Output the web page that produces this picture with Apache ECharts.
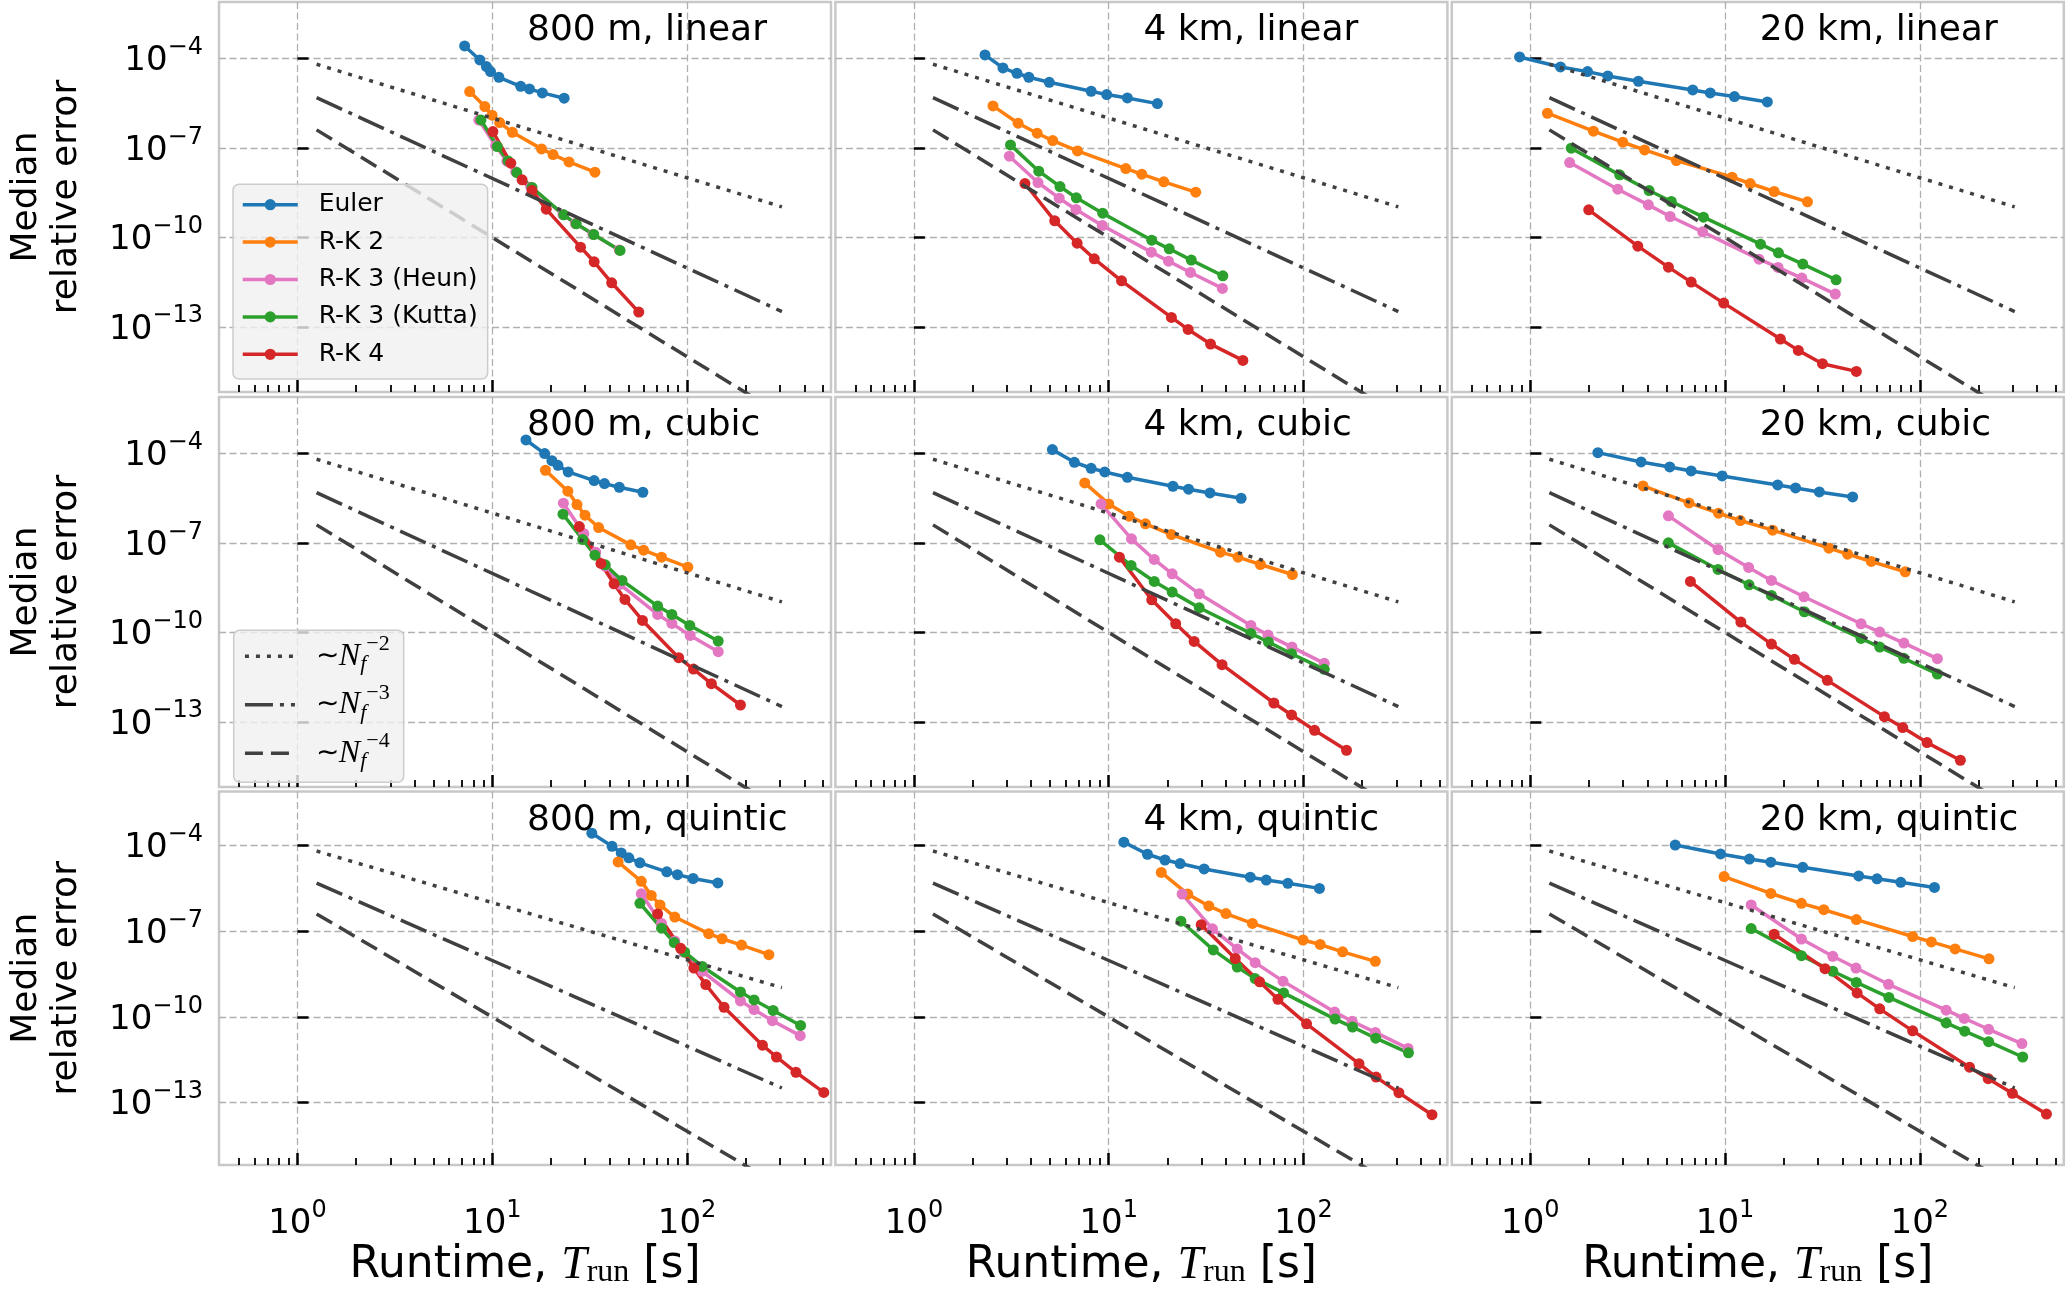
<!DOCTYPE html>
<html><head><meta charset="utf-8">
<script src="https://cdn.jsdelivr.net/npm/echarts@6/dist/echarts.min.js"></script>
<style>html,body{margin:0;padding:0;background:#fff}#c{width:2067px;height:1290px}</style>
</head><body><div id="c"></div>
<script>
// All values are log10: [log10(runtime T_run [s]), log10(median relative error)]
const methods = ['Euler', 'R-K 2', 'R-K 3 (Heun)', 'R-K 3 (Kutta)', 'R-K 4'];
const colors = ['#1f77b4', '#ff7f0e', '#e377c2', '#2ca02c', '#d62728'];
const panelTitles = ['800 m, linear', '4 km, linear', '20 km, linear',
                     '800 m, cubic', '4 km, cubic', '20 km, cubic',
                     '800 m, quintic', '4 km, quintic', '20 km, quintic'];
const yTickValues = [-13, -10, -7, -4];      // exponents of 10
const xTickValues = [0, 1, 2];               // exponents of 10
const xMinorMultiples = [0.5, 0.6, 0.7, 0.8, 0.9, 2, 3, 4, 5, 6, 7, 8, 9, 20, 30, 40, 50, 60, 70, 80, 90, 200, 300, 400, 500];

// reference slopes ~N_f^-2, ~N_f^-3, ~N_f^-4 (same in every panel)
const refNames = ['N_f^-2', 'N_f^-3', 'N_f^-4'];
const refExp = ['−2', '−3', '−4'];
const refX = [0.098, 2.487];
const refN2 = [-4.20, -8.98];
const refN3 = [-5.32, -12.49];
const refN4 = [-6.40, -15.95];

// 800 m, linear
const euler_800m_linear = [[0.858,-3.587],[0.936,-4.056],[0.970,-4.279],[0.991,-4.446],[1.034,-4.636],[1.146,-4.938],[1.191,-5.027],[1.257,-5.161],[1.369,-5.339]];
const rk2_800m_linear = [[0.884,-5.117],[0.962,-5.619],[0.999,-5.909],[1.038,-6.155],[1.103,-6.479],[1.253,-7.037],[1.312,-7.227],[1.394,-7.473],[1.527,-7.819]];
const heun_800m_linear = [[0.931,-6.07],[1.017,-6.93],[1.075,-7.45],[1.120,-7.80],[1.198,-8.32],[1.363,-9.24],[1.427,-9.54],[1.517,-9.90],[1.652,-10.43]];
const kutta_800m_linear = [[0.942,-6.066],[1.026,-6.959],[1.081,-7.439],[1.126,-7.830],[1.204,-8.332],[1.367,-9.248],[1.431,-9.549],[1.521,-9.907],[1.656,-10.443]];
const rk4_800m_linear = [[1.003,-6.456],[1.095,-7.517],[1.153,-8.075],[1.204,-8.433],[1.277,-9.058],[1.453,-10.331],[1.523,-10.822],[1.613,-11.526],[1.752,-12.508]];
// 4 km, linear
const euler_4km_linear = [[0.365,-3.888],[0.457,-4.324],[0.529,-4.502],[0.590,-4.636],[0.695,-4.804],[0.910,-5.105],[0.990,-5.217],[1.096,-5.329],[1.250,-5.519]];
const rk2_4km_linear = [[0.406,-5.597],[0.535,-6.177],[0.633,-6.512],[0.713,-6.758],[0.840,-7.104],[1.088,-7.696],[1.170,-7.886],[1.283,-8.142],[1.447,-8.489]];
const heun_4km_linear = [[0.490,-7.283],[0.637,-8.165],[0.746,-8.690],[0.832,-9.069],[0.967,-9.605],[1.219,-10.498],[1.307,-10.800],[1.420,-11.180],[1.584,-11.715]];
const kutta_4km_linear = [[0.496,-6.903],[0.641,-7.785],[0.750,-8.299],[0.834,-8.678],[0.969,-9.192],[1.221,-10.097],[1.311,-10.387],[1.424,-10.766],[1.586,-11.291]];
const rk4_4km_linear = [[0.570,-8.198],[0.723,-9.449],[0.838,-10.197],[0.926,-10.722],[1.066,-11.459],[1.322,-12.687],[1.408,-13.089],[1.523,-13.580],[1.689,-14.127]];
// 20 km, linear
const euler_20km_linear = [[-0.055,-3.955],[0.155,-4.290],[0.294,-4.447],[0.398,-4.592],[0.555,-4.770],[0.834,-5.061],[0.924,-5.161],[1.048,-5.284],[1.217,-5.463]];
const rk2_20km_linear = [[0.088,-5.842],[0.324,-6.445],[0.475,-6.814],[0.587,-7.071],[0.750,-7.428],[1.036,-7.986],[1.129,-8.198],[1.252,-8.466],[1.423,-8.812]];
const heun_20km_linear = [[0.202,-7.495],[0.449,-8.388],[0.606,-8.913],[0.718,-9.304],[0.885,-9.817],[1.174,-10.733],[1.272,-11.012],[1.394,-11.369],[1.566,-11.905]];
const kutta_20km_linear = [[0.210,-7.015],[0.459,-7.908],[0.610,-8.433],[0.724,-8.801],[0.889,-9.326],[1.182,-10.230],[1.274,-10.521],[1.399,-10.900],[1.570,-11.425]];
const rk4_20km_linear = [[0.300,-9.080],[0.552,-10.297],[0.709,-11.001],[0.826,-11.503],[0.993,-12.207],[1.284,-13.413],[1.376,-13.792],[1.500,-14.239],[1.674,-14.496]];
// 800 m, cubic
const euler_800m_cubic = [[1.173,-3.554],[1.269,-4.011],[1.306,-4.246],[1.337,-4.402],[1.390,-4.625],[1.523,-4.915],[1.576,-5.016],[1.652,-5.138],[1.773,-5.306]];
const rk2_800m_cubic = [[1.273,-4.569],[1.388,-5.272],[1.435,-5.719],[1.476,-6.076],[1.546,-6.489],[1.711,-7.069],[1.777,-7.248],[1.869,-7.482],[2.004,-7.817]];
const heun_800m_cubic = [[1.365,-5.674],[1.470,-6.690],[1.531,-7.315],[1.578,-7.783],[1.656,-8.397],[1.849,-9.402],[1.922,-9.703],[2.016,-10.105],[2.160,-10.652]];
const kutta_800m_cubic = [[1.363,-6.043],[1.464,-6.891],[1.527,-7.415],[1.580,-7.739],[1.666,-8.263],[1.849,-9.123],[1.922,-9.402],[2.014,-9.770],[2.160,-10.295]];
const rk4_800m_cubic = [[1.447,-6.456],[1.558,-7.694],[1.625,-8.375],[1.681,-8.900],[1.771,-9.603],[1.957,-10.853],[2.033,-11.232],[2.125,-11.723],[2.274,-12.438]];
// 4 km, cubic
const euler_4km_cubic = [[0.711,-3.877],[0.824,-4.301],[0.910,-4.502],[0.980,-4.625],[1.096,-4.804],[1.330,-5.105],[1.410,-5.205],[1.520,-5.328],[1.680,-5.507]];
const rk2_4km_cubic = [[0.877,-4.993],[1.000,-5.696],[1.105,-6.109],[1.189,-6.366],[1.322,-6.723],[1.574,-7.315],[1.664,-7.482],[1.779,-7.728],[1.943,-8.063]];
const heun_4km_cubic = [[0.961,-5.696],[1.117,-6.868],[1.234,-7.560],[1.326,-8.040],[1.465,-8.710],[1.730,-9.770],[1.818,-10.094],[1.941,-10.496],[2.107,-11.042]];
const kutta_4km_cubic = [[0.955,-6.902],[1.115,-7.761],[1.234,-8.297],[1.326,-8.654],[1.465,-9.179],[1.730,-10.038],[1.820,-10.328],[1.939,-10.719],[2.107,-11.243]];
const rk4_4km_cubic = [[1.055,-7.482],[1.221,-8.911],[1.344,-9.714],[1.439,-10.306],[1.582,-11.087],[1.848,-12.371],[1.939,-12.772],[2.057,-13.286],[2.221,-13.955]];
// 20 km, cubic
const euler_20km_cubic = [[0.347,-3.978],[0.569,-4.290],[0.716,-4.458],[0.826,-4.592],[0.985,-4.759],[1.270,-5.060],[1.362,-5.161],[1.484,-5.295],[1.655,-5.462]];
const rk2_20km_cubic = [[0.579,-5.094],[0.815,-5.663],[0.966,-6.009],[1.078,-6.254],[1.244,-6.578],[1.533,-7.181],[1.629,-7.382],[1.751,-7.627],[1.925,-7.973]];
const heun_20km_cubic = [[0.709,-6.098],[0.964,-7.225],[1.121,-7.828],[1.238,-8.263],[1.405,-8.810],[1.698,-9.714],[1.794,-9.993],[1.918,-10.362],[2.090,-10.886]];
const kutta_20km_cubic = [[0.709,-7.002],[0.964,-7.895],[1.123,-8.408],[1.238,-8.766],[1.407,-9.312],[1.698,-10.205],[1.794,-10.496],[1.918,-10.875],[2.090,-11.400]];
const rk4_20km_cubic = [[0.822,-8.297],[1.081,-9.658],[1.238,-10.395],[1.356,-10.908],[1.525,-11.612],[1.818,-12.828],[1.912,-13.196],[2.037,-13.699],[2.208,-14.290]];
// 800 m, quintic
const euler_800m_quintic = [[1.511,-3.576],[1.615,-4.033],[1.662,-4.268],[1.701,-4.435],[1.758,-4.613],[1.896,-4.926],[1.951,-5.026],[2.031,-5.160],[2.158,-5.316]];
const rk2_800m_quintic = [[1.646,-4.580],[1.765,-5.260],[1.816,-5.751],[1.861,-6.085],[1.937,-6.509],[2.111,-7.089],[2.180,-7.268],[2.280,-7.491],[2.420,-7.825]];
const heun_800m_quintic = [[1.765,-5.695],[1.869,-6.732],[1.937,-7.346],[1.982,-7.736],[2.078,-8.405],[2.274,-9.442],[2.344,-9.743],[2.438,-10.134],[2.581,-10.658]];
const kutta_800m_quintic = [[1.758,-6.030],[1.869,-6.900],[1.934,-7.401],[1.988,-7.736],[2.078,-8.238],[2.274,-9.130],[2.344,-9.409],[2.442,-9.777],[2.583,-10.301]];
const rk4_800m_quintic = [[1.849,-6.398],[1.967,-7.602],[2.035,-8.294],[2.096,-8.873],[2.190,-9.665],[2.387,-10.992],[2.459,-11.405],[2.559,-11.940],[2.702,-12.643]];
// 4 km, quintic
const euler_4km_quintic = [[1.078,-3.888],[1.199,-4.312],[1.289,-4.513],[1.367,-4.636],[1.490,-4.825],[1.727,-5.115],[1.809,-5.216],[1.920,-5.327],[2.082,-5.506]];
const rk2_4km_quintic = [[1.270,-4.948],[1.406,-5.706],[1.514,-6.119],[1.602,-6.387],[1.738,-6.732],[1.998,-7.312],[2.086,-7.468],[2.201,-7.725],[2.369,-8.059]];
const heun_4km_quintic = [[1.377,-5.706],[1.533,-6.922],[1.660,-7.624],[1.752,-8.104],[1.895,-8.751],[2.160,-9.833],[2.250,-10.156],[2.369,-10.546],[2.537,-11.104]];
const kutta_4km_quintic = [[1.371,-6.654],[1.537,-7.658],[1.660,-8.260],[1.752,-8.662],[1.898,-9.163],[2.162,-10.078],[2.252,-10.357],[2.371,-10.747],[2.539,-11.260]];
const rk4_4km_quintic = [[1.475,-6.777],[1.650,-7.959],[1.775,-8.773],[1.869,-9.387],[2.016,-10.245],[2.285,-11.639],[2.373,-12.108],[2.490,-12.654],[2.660,-13.423]];
// 20 km, quintic
const euler_20km_quintic = [[0.744,-3.989],[0.977,-4.301],[1.125,-4.480],[1.235,-4.591],[1.399,-4.769],[1.686,-5.071],[1.780,-5.171],[1.902,-5.294],[2.075,-5.472]];
const rk2_20km_quintic = [[0.995,-5.093],[1.235,-5.684],[1.392,-6.030],[1.507,-6.253],[1.674,-6.598],[1.963,-7.189],[2.059,-7.379],[2.181,-7.624],[2.355,-7.970]];
const heun_20km_quintic = [[1.134,-6.085],[1.392,-7.279],[1.553,-7.881],[1.672,-8.293],[1.839,-8.862],[2.135,-9.766],[2.228,-10.056],[2.353,-10.435],[2.524,-10.937]];
const kutta_20km_quintic = [[1.134,-6.911],[1.392,-7.859],[1.553,-8.405],[1.674,-8.795],[1.841,-9.320],[2.135,-10.212],[2.230,-10.502],[2.353,-10.870],[2.528,-11.405]];
const rk4_20km_quintic = [[1.252,-7.111],[1.513,-8.316],[1.678,-9.163],[1.794,-9.721],[1.963,-10.491],[2.255,-11.762],[2.351,-12.163],[2.475,-12.676],[2.650,-13.401]];

const panelSeries = [
  [euler_800m_linear, rk2_800m_linear, heun_800m_linear, kutta_800m_linear, rk4_800m_linear],
  [euler_4km_linear, rk2_4km_linear, heun_4km_linear, kutta_4km_linear, rk4_4km_linear],
  [euler_20km_linear, rk2_20km_linear, heun_20km_linear, kutta_20km_linear, rk4_20km_linear],
  [euler_800m_cubic, rk2_800m_cubic, heun_800m_cubic, kutta_800m_cubic, rk4_800m_cubic],
  [euler_4km_cubic, rk2_4km_cubic, heun_4km_cubic, kutta_4km_cubic, rk4_4km_cubic],
  [euler_20km_cubic, rk2_20km_cubic, heun_20km_cubic, kutta_20km_cubic, rk4_20km_cubic],
  [euler_800m_quintic, rk2_800m_quintic, heun_800m_quintic, kutta_800m_quintic, rk4_800m_quintic],
  [euler_4km_quintic, rk2_4km_quintic, heun_4km_quintic, kutta_4km_quintic, rk4_4km_quintic],
  [euler_20km_quintic, rk2_20km_quintic, heun_20km_quintic, kutta_20km_quintic, rk4_20km_quintic]
];

// ---------- layout / style ----------
const gridLeft = [219, 835.4, 1451.8];
const gridTop = [2, 397, 791.4];
const gridW = 612, gridH = 390;
const xMin = -0.403, xMax = 2.739;
const yMin = -15.187, yMax = -2.113;
const FONT = 'DejaVu Sans';
const SERIF = 'Liberation Serif';
const refStyles = [[4, 7], [28, 7, 4, 7], [18, 8]];
const xMinorValues = xMinorMultiples.map(v => Math.log10(v));

const expText = v => (v < 0 ? '−' + Math.abs(v) : String(v));
const tickRich = {
  b: { fontSize: 34, fontFamily: FONT, color: '#000', padding: [6, 0, 0, 0] },
  s: { fontSize: 24, fontFamily: FONT, color: '#000', padding: [0, 0, 21, 0] }
};
const gridLine = { show: true, lineStyle: { color: '#b0b0b0', width: 1.3, type: [7, 3.5] } };

const grids = [], xAxes = [], yAxes = [], series = [], titles = [];
for (let r = 0; r < 3; r++) {
  for (let c = 0; c < 3; c++) {
    const i = r * 3 + c;
    grids.push({ left: gridLeft[c], top: gridTop[r], width: gridW, height: gridH,
      show: true, borderColor: '#c8c8c8', borderWidth: 2.5, backgroundColor: 'transparent' });
    // major x axis
    xAxes.push({
      type: 'value', gridIndex: i, min: xMin, max: xMax, position: 'bottom',
      axisLine: { show: false },
      axisTick: { show: true, inside: true, length: 12, lineStyle: { color: '#000', width: 2.5 }, customValues: xTickValues },
      axisLabel: { show: r === 2, customValues: xTickValues, margin: 34,
        formatter: v => '{b|10}{s|' + expText(Math.round(v)) + '}', rich: tickRich },
      splitLine: gridLine,
      name: r === 2 ? '{t|Runtime, }{i|T}{sub|run}{t| [s]}' : '',
      nameLocation: 'middle', nameGap: 62,
      nameTextStyle: { rich: {
        t: { fontSize: 44, fontFamily: FONT, color: '#000' },
        i: { fontSize: 46, fontFamily: SERIF, fontStyle: 'italic', color: '#000' },
        sub: { fontSize: 32, fontFamily: SERIF, color: '#000', padding: [15, 0, 0, 0] }
      } }
    });
    // minor x ticks
    xAxes.push({
      type: 'value', gridIndex: i, min: xMin, max: xMax, position: 'bottom',
      axisLine: { show: false }, axisLabel: { show: false }, splitLine: { show: false },
      axisTick: { show: true, inside: true, length: 7, lineStyle: { color: '#000', width: 1.8 }, customValues: xMinorValues }
    });
    yAxes.push({
      type: 'value', gridIndex: i, min: yMin, max: yMax, position: 'left',
      axisLine: { show: false },
      axisTick: { show: true, inside: true, length: 11, lineStyle: { color: '#000', width: 2.5 }, customValues: yTickValues },
      axisLabel: { show: c === 0, customValues: yTickValues, margin: 16,
        formatter: v => '{b|10}{s|' + expText(Math.round(v)) + '}', rich: tickRich },
      splitLine: gridLine,
      name: c === 0 ? 'Median\nrelative error' : '',
      nameLocation: 'middle', nameRotate: 90, nameGap: 132,
      nameTextStyle: { fontSize: 36, lineHeight: 40, fontFamily: FONT, color: '#000' }
    });
    titles.push({ text: panelTitles[i], left: gridLeft[c] + 308, top: gridTop[r] + 11, padding: 0,
      textStyle: { fontSize: 36, fontFamily: FONT, fontWeight: 'normal', color: '#000' } });

    panelSeries[i].forEach((d, m) => {
      series.push({ type: 'line', name: methods[m], xAxisIndex: 2 * i, yAxisIndex: i, data: d,
        symbol: 'circle', symbolSize: 11, showSymbol: true, silent: true, z: 2,
        lineStyle: { color: colors[m], width: 3.5 }, itemStyle: { color: colors[m] } });
    });
    [refN2, refN3, refN4].forEach((ys, k) => {
      series.push({ type: 'line', name: refNames[k], xAxisIndex: 2 * i, yAxisIndex: i,
        data: [[refX[0], ys[0]], [refX[1], ys[1]]], symbol: 'none', silent: true, z: 3, clip: true,
        lineStyle: { color: '#404040', width: 3.5, type: refStyles[k] }, itemStyle: { color: '#404040' } });
    });
  }
}

const legendBox = { backgroundColor: 'rgba(240,240,240,0.8)', borderColor: '#cccccc', borderWidth: 1.5,
  borderRadius: 6, orient: 'vertical', selectedMode: false };

const option = {
  animation: false,
  backgroundColor: '#ffffff',
  textStyle: { fontFamily: FONT },
  title: titles,
  grid: grids, xAxis: xAxes, yAxis: yAxes, series: series,
  legend: [
    Object.assign({}, legendBox, {
      data: methods, left: 233, top: 184.3, padding: [5.4, 10, 9.7, 8],
      itemWidth: 55, itemHeight: 14, itemGap: 7.4,
      lineStyle: { width: 3.5 },
      formatter: n => '  ' + n,
      textStyle: { fontSize: 25, lineHeight: 30, fontFamily: FONT, color: '#000' }
    }),
    Object.assign({}, legendBox, {
      data: refNames, left: 233.7, top: 630.3, padding: [3, 14, 9, 9.5],
      itemWidth: 50, itemHeight: 14, itemGap: 5.5,
      lineStyle: { width: 3.5 },
      itemStyle: { opacity: 0 },
      formatter: n => '  {t|∼}{n|N}{f|f}{s|' + refExp[refNames.indexOf(n)] + '}',
      textStyle: { fontSize: 25, lineHeight: 40, fontFamily: FONT, color: '#000',
        rich: {
          t: { fontSize: 28, fontFamily: SERIF, color: '#000', lineHeight: 40 },
          n: { fontSize: 32, fontFamily: SERIF, fontStyle: 'italic', color: '#000', lineHeight: 40 },
          f: { fontSize: 22, fontFamily: SERIF, fontStyle: 'italic', color: '#000', padding: [16, 0, 0, 0] },
          s: { fontSize: 22, fontFamily: SERIF, color: '#000', padding: [0, 0, 24, 0] }
        } }
    })
  ]
};

const chart = echarts.init(document.getElementById('c'), null, { renderer: 'canvas' });
chart.setOption(option);
</script>
</body></html>
